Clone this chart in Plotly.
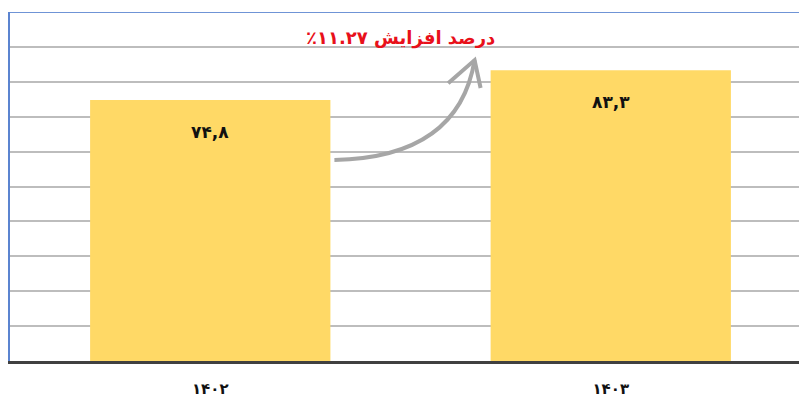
import plotly.graph_objects as go

years = ["۱۴۰۲", "۱۴۰۳"]
values = [74.8, 83.3]
value_labels = ["۷۴,۸", "۸۳,۳"]
growth_label = "درصد افزایش ۱۱.۲۷٪\u200f"

FONT = "DejaVu Sans"

fig = go.Figure()
fig.add_trace(go.Bar(
    x=years, y=values, width=0.6,
    marker=dict(color="#FFD966", line=dict(width=0)),
    hoverinfo="skip",
))

for yr, v, lab in zip(years, values, value_labels):
    fig.add_annotation(x=yr, y=v, text="<b>" + lab + "</b>", showarrow=False,
                       yanchor="top", yshift=-20,
                       font=dict(family=FONT, size=17, color="#111111"))

# curved growth arrow (data coordinates derived from the two values)
x0, y0 = 0.31, values[0] * 0.77
x1, y1 = 0.66, values[1] * 1.035
cx, cy = 0.62, values[0] * 0.78
path = f"M {x0},{y0} Q {cx},{cy} {x1},{y1}"
fig.add_shape(type="path", path=path, xref="x", yref="y",
              line=dict(color="#A6A6A6", width=4))
fig.add_shape(type="path",
              path=f"M {x1-0.066},{y1-6.6} L {x1},{y1} L {x1+0.015},{y1-8.0}",
              xref="x", yref="y", line=dict(color="#A6A6A6", width=4))

fig.add_annotation(x=0.475, y=values[1] * 1.11, xref="x", yref="y",
                   text="<b>" + growth_label + "</b>", showarrow=False,
                   font=dict(family=FONT, size=18, color="#E8101A"))

# top border
fig.add_shape(type="line", xref="paper", yref="y", x0=0, x1=1, y0=100, y1=100,
              line=dict(color="#6F94D6", width=2))

fig.update_layout(
    width=799, height=406,
    margin=dict(l=10, r=0, t=12, b=45),
    paper_bgcolor="white", plot_bgcolor="white",
    showlegend=False,
    bargap=0.4,
    xaxis=dict(
        type="category", range=[-0.5, 1.47],
        showline=True, linecolor="#404040", linewidth=3,
        showgrid=False, ticks="", ticklabelstandoff=12,
        tickvals=years, ticktext=["<b>" + y + "</b>" for y in years],
        tickfont=dict(family=FONT, size=15, color="#111111"),
    ),
    yaxis=dict(
        range=[0, 100], dtick=10,
        showgrid=True, gridcolor="#BDBDBD", gridwidth=1.5,
        showline=True, linecolor="#5B84D0", linewidth=2,
        showticklabels=False, ticks="", zeroline=False,
    ),
)

fig.write_html("out.html", config={"displayModeBar": False},
               post_script="document.body.style.margin='0px';")
